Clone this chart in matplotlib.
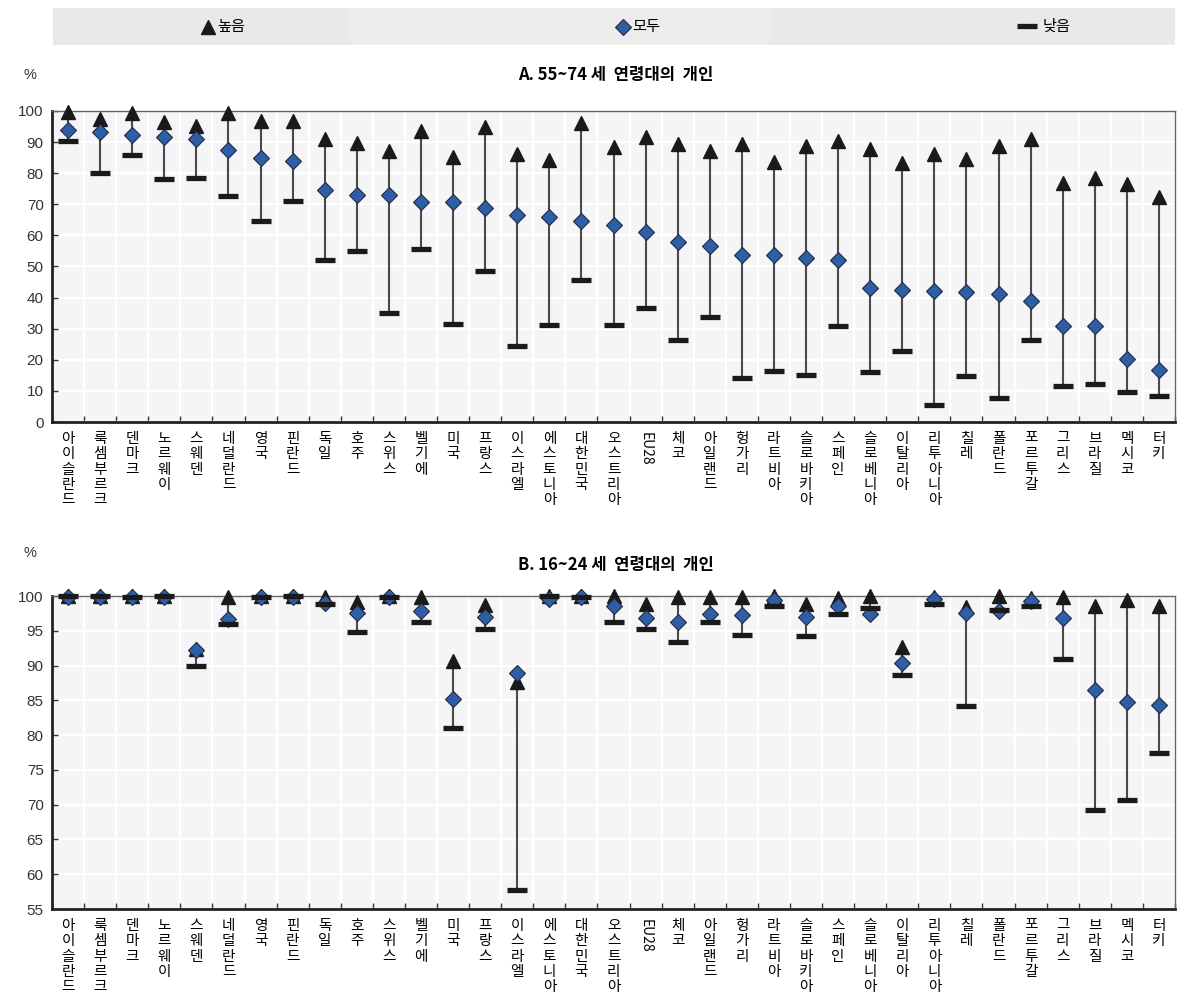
import numpy as np
import matplotlib.pyplot as plt

plt.rcParams['font.family'] = ['Noto Sans CJK KR', 'DejaVu Sans']

countries = ["아이슬란드", "룩셈부르크", "덴마크", "노르웨이", "스웨덴", "네덜란드", "영국", "핀란드",
             "독일", "호주", "스위스", "벨기에", "미국", "프랑스", "이스라엘", "에스토니아", "대한민국",
             "오스트리아", "EU28", "체코", "아일랜드", "헝가리", "라트비아", "슬로바키아", "스페인",
             "슬로베니아", "이탈리아", "리투아니아", "칠레", "폴란드", "포르투갈", "그리스", "브라질",
             "멕시코", "터키"]

# A. 55~74
a_high = [99.8, 97.3, 99.3, 96.6, 95.2, 99.3, 96.8, 96.8, 90.9, 89.6, 87.2, 93.6, 85.2, 94.7, 86.3,
          84.2, 96.0, 88.3, 91.5, 89.3, 87.2, 89.3, 83.6, 88.8, 90.4, 87.9, 83.2, 86.1, 84.5, 88.8,
          90.9, 77.0, 78.6, 76.5, 72.2]
a_all = [93.9, 93.1, 92.2, 91.7, 90.9, 87.6, 85.0, 83.9, 74.6, 73.0, 72.9, 70.9, 70.9, 68.9, 66.5,
         65.8, 64.6, 63.3, 61.2, 57.8, 56.7, 53.7, 53.7, 52.6, 52.1, 43.2, 42.5, 42.2, 41.7, 41.0,
         38.9, 30.8, 30.8, 20.3, 16.8]
a_low = [90.2, 80.2, 85.9, 78.0, 78.4, 72.6, 64.7, 71.1, 52.0, 55.0, 35.2, 55.5, 31.4, 48.7, 24.4,
         31.3, 45.8, 31.3, 36.7, 26.5, 33.7, 14.2, 16.5, 15.2, 30.9, 16.1, 22.8, 5.4, 14.8, 7.8,
         26.5, 11.6, 12.1, 9.8, 8.5]

# B. 16~24
b_high = [100.0, 100.0, 100.0, 100.0, 92.4, 99.9, 100.0, 100.0, 99.8, 99.2, 100.0, 99.9, 90.7, 98.7,
          87.7, 100.0, 100.0, 100.0, 98.9, 99.9, 99.9, 99.8, 100.0, 98.9, 99.7, 100.0, 92.6, 99.9,
          98.4, 100.0, 99.7, 99.9, 98.6, 99.4, 98.6]
b_all = [99.9, 99.9, 99.9, 99.9, 92.2, 96.7, 99.8, 99.9, 99.0, 97.6, 99.8, 97.9, 85.2, 97.0, 89.0,
         99.6, 99.8, 98.6, 96.8, 96.3, 97.4, 97.3, 99.4, 97.0, 98.5, 97.4, 90.3, 99.5, 97.6, 97.8,
         99.3, 96.8, 86.5, 84.8, 84.3]
b_low = [100.0, 100.0, 99.9, 100.0, 90.0, 96.0, 99.8, 100.0, 98.9, 94.8, 99.9, 96.3, 81.0, 95.2, 57.7,
         100.0, 99.9, 96.2, 95.2, 93.4, 96.2, 94.4, 98.5, 94.2, 97.4, 98.3, 88.6, 98.8, 84.2, 98.0,
         98.6, 90.9, 69.3, 70.7, 77.4]

legend_labels = ["높음", "모두", "낮음"]
titles = ["A. 55~74 세  연령대의  개인", "B. 16~24 세  연령대의  개인"]

W, H = 1182, 1005
fig = plt.figure(figsize=(W / 100, H / 100), dpi=100)

diamond_c = '#2e5fa6'
dark = '#1a1a1a'
num_font = ['Liberation Sans', 'DejaVu Sans']


def stacked(name):
    if name.isascii():
        return name
    return "\n".join(name)


def draw_panel(ax, high, mid, low, ylim, yticks):
    x = np.arange(len(countries))
    ax.set_facecolor('#f5f5f7')
    ax.vlines(x, low, high, color='#4a4a4a', lw=1.5, zorder=2)
    ax.plot(x, high, '^', ms=10, color=dark, zorder=3, clip_on=False)
    ax.plot(x, mid, 'D', ms=8.5, mfc=diamond_c, mec='#1f2d45', mew=0.8, zorder=4, clip_on=False)
    ax.plot(x, low, '_', ms=14.5, mew=3.8, color=dark, zorder=5, clip_on=False)
    ax.set_xlim(-0.5, len(countries) - 0.5)
    ax.set_ylim(*ylim)
    ax.set_yticks(yticks)
    ax.set_yticklabels([str(v) for v in yticks], family=num_font, fontsize=11, color='#333333')
    ax.set_xticks(x)
    ax.set_xticks(np.arange(len(countries) + 1) - 0.5, minor=True)
    ax.tick_params(axis='x', which='major', length=0, pad=7)
    ax.tick_params(axis='x', which='minor', direction='in', length=4, width=1, color='#333333')
    ax.tick_params(axis='y', direction='in', length=4, width=1, color='#333333', pad=6)
    labels = ax.set_xticklabels([stacked(c) for c in countries], fontsize=10.5,
                                va='top', linespacing=1.13)
    for lab, c in zip(labels, countries):
        if c.isascii():
            lab.set_rotation(-90)
            lab.set_fontsize(10)
    ax.grid(True, which='minor', axis='x', color='white', lw=1.6, zorder=0)
    ax.grid(True, which='major', axis='y', color='white', lw=1.6, zorder=0)
    ax.set_axisbelow(True)
    for s in ['left', 'bottom']:
        ax.spines[s].set_linewidth(2)
        ax.spines[s].set_color('#222222')
    for s in ['top', 'right']:
        ax.spines[s].set_linewidth(1)
        ax.spines[s].set_color('#666666')


# legend strip
lg = fig.add_axes([53 / W, 1 - 45 / H, 1122 / W, 37 / H])
lg.set_facecolor('#e9e9ea')
lg.set_xlim(0, 1)
lg.set_ylim(0, 1)
lg.set_xticks([])
lg.set_yticks([])
for s in lg.spines.values():
    s.set_visible(False)
lg.axvspan(297 / 1122, 717 / 1122, color='#ececed', lw=0)
lg.plot([0.138], [0.48], '^', ms=10, color=dark)
lg.plot([0.508], [0.48], 'D', ms=8.5, mfc=diamond_c, mec='#1f2d45', mew=0.8)
lg.plot([0.868], [0.5], '_', ms=14.5, mew=3.8, color=dark)
lg.text(0.146, 0.5, legend_labels[0], fontsize=11, va='center', ha='left')
lg.text(0.516, 0.5, legend_labels[1], fontsize=11, va='center', ha='left')
lg.text(0.882, 0.5, legend_labels[2], fontsize=11, va='center', ha='left')

axA = fig.add_axes([52 / W, 1 - 422 / H, 1123 / W, 311 / H])
draw_panel(axA, a_high, a_all, a_low, (0, 100), list(range(0, 101, 10)))

axB = fig.add_axes([52 / W, 1 - 909 / H, 1123 / W, 313 / H])
draw_panel(axB, b_high, b_all, b_low, (55, 100), list(range(55, 101, 5)))

fig.text(616 / W, 1 - 75 / H, titles[0], fontsize=12, fontweight='bold', ha='center', va='center')
fig.text(616 / W, 1 - 565 / H, titles[1], fontsize=12, fontweight='bold', ha='center', va='center')
fig.text(30 / W, 1 - 75 / H, "%", family=num_font, fontsize=10.5, color='#333333', ha='center', va='center')
fig.text(30 / W, 1 - 553 / H, "%", family=num_font, fontsize=10.5, color='#333333', ha='center', va='center')

fig.savefig('out.png', dpi=100)
